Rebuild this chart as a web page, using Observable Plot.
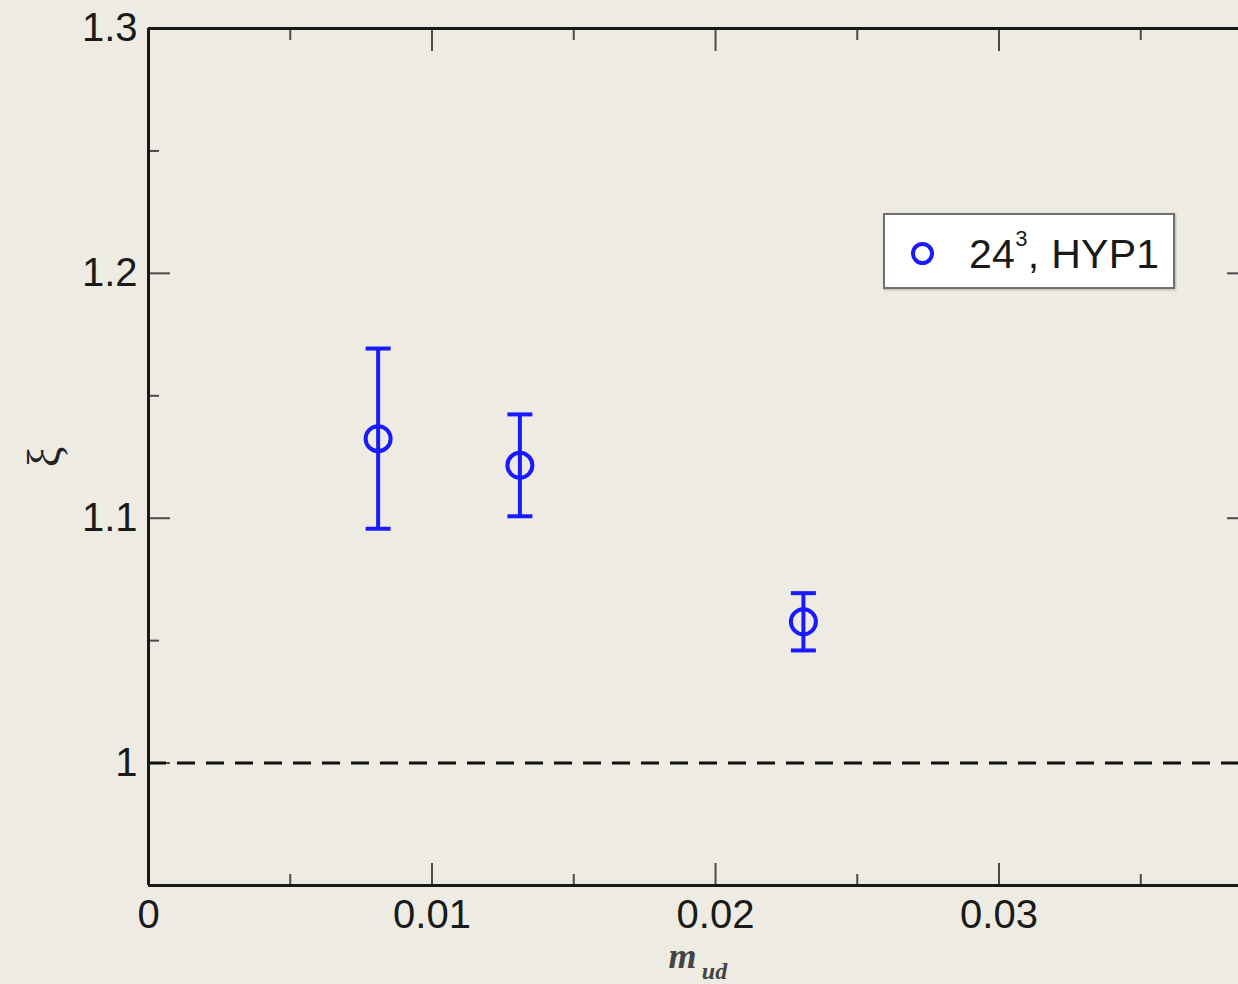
<!DOCTYPE html>
<html>
<head>
<meta charset="utf-8">
<script src="https://cdn.jsdelivr.net/npm/d3@7"></script>
<script src="https://cdn.jsdelivr.net/npm/@observablehq/plot@0.6"></script>
<style>
  html, body { margin: 0; padding: 0; background: #eeebe2; }
  #chart { position: relative; width: 1238px; height: 984px; overflow: hidden; }
  #chart svg { position: absolute; left: 0; top: 0; overflow: hidden; }
  .legend {
    position: absolute; left: 883px; top: 213px; width: 288px; height: 72px;
    background: #ffffff; border: 2px solid #707070; box-shadow: 1px 1px 2px rgba(0,0,0,0.25);
    font-family: "Liberation Sans", Arial, sans-serif; color: #1a1a1a;
  }
  .legend .sym {
    position: absolute; left: 26px; top: 27px; width: 23px; height: 23px; box-sizing: border-box;
    border: 4px solid #1a1aff; border-radius: 50%;
  }
  .legend .lab { position: absolute; left: 84px; top: 19px; font-size: 41px; line-height: 41px; white-space: nowrap; letter-spacing: 0.3px; }
  .legend .lab sup { font-size: 22px; vertical-align: 0; position: relative; top: -22px; }
</style>
</head>
<body>
<div id="chart"></div>
<script>
// Pion-mass dependence of xi on the 24^3 HYP1 ensemble
const mud = [0.0081, 0.0131, 0.0231];
const xi = [1.1325, 1.1216, 1.0577];
const xiErr = [0.0368, 0.0208, 0.0117];
const seriesName = "24³, HYP1";

// axis layout
const xDomain = [0, 0.0388];
const yDomain = [0.95, 1.3];
const xMajor = [0, 0.01, 0.02, 0.03];
const xMajorLabels = ["0", "0.01", "0.02", "0.03"];
const xMinor = [0.005, 0.015, 0.025, 0.035];
const yMajor = [1, 1.1, 1.2, 1.3];
const yMajorLabels = ["1", "1.1", "1.2", "1.3"];
const yMinor = [1.05, 1.15, 1.25];
const reference = [1];

const points = mud.map((m, i) => ({m, xi: xi[i], lo: xi[i] - xiErr[i], hi: xi[i] + xiErr[i]}));

const blue = "#1a1aff";
const ink = "#1a1a1a";
const tickInk = "#4a4a4a";

// flat horizontal cap for the error bars
const capSymbol = {
  draw(context, size) {
    const w = Math.sqrt(size / Math.PI);
    context.moveTo(-w, 0);
    context.lineTo(w, 0);
  }
};

const tickAxes = [];
for (const anchor of ["bottom", "top"]) {
  tickAxes.push(Plot.axisX(xMajor, {anchor, label: null, tickSize: -22, tickFormat: () => "", stroke: tickInk, strokeWidth: 2}));
  tickAxes.push(Plot.axisX(xMinor, {anchor, label: null, tickSize: -11, tickFormat: () => "", stroke: tickInk, strokeWidth: 2}));
}
for (const anchor of ["left", "right"]) {
  tickAxes.push(Plot.axisY(yMajor, {anchor, label: null, tickSize: -22, tickFormat: () => "", stroke: tickInk, strokeWidth: 2}));
  tickAxes.push(Plot.axisY(yMinor, {anchor, label: null, tickSize: -11, tickFormat: () => "", stroke: tickInk, strokeWidth: 2}));
}

const chart = Plot.plot({
  width: 1238,
  height: 984,
  marginLeft: 148,
  marginRight: -10,
  marginTop: 28,
  marginBottom: 99,
  style: {background: "transparent", fontFamily: "'Liberation Sans', Arial, sans-serif", fontSize: "40px", color: ink},
  x: {domain: xDomain, axis: null},
  y: {domain: yDomain, axis: null},
  marks: [
    ...tickAxes,
    Plot.axisX(xMajor, {anchor: "bottom", label: null, tickSize: 0, tickPadding: 14, tickFormat: d => xMajorLabels[xMajor.indexOf(d)], fill: ink}),
    Plot.axisY(yMajor, {anchor: "left", label: null, tickSize: 0, tickPadding: 11, tickFormat: d => yMajorLabels[yMajor.indexOf(d)], fill: ink}),
    Plot.ruleY(reference, {stroke: "#111", strokeWidth: 3, strokeDasharray: "18,11"}),
    Plot.ruleY(yDomain, {stroke: ink, strokeWidth: 3}),
    Plot.ruleX(xDomain, {stroke: ink, strokeWidth: 3}),
    Plot.ruleX(points, {x: "m", y1: "lo", y2: "hi", stroke: blue, strokeWidth: 4}),
    Plot.dot(points, {x: "m", y: "lo", symbol: capSymbol, r: 12.5, stroke: blue, fill: "none", strokeWidth: 4}),
    Plot.dot(points, {x: "m", y: "hi", symbol: capSymbol, r: 12.5, stroke: blue, fill: "none", strokeWidth: 4}),
    Plot.dot(points, {x: "m", y: "xi", r: 12.5, stroke: blue, fill: "none", strokeWidth: 4}),
    Plot.text(["ξ"], {text: d => d, frameAnchor: "left", dx: -103, rotate: -90, textAnchor: "middle", lineAnchor: "middle", fontSize: 46, fontFamily: "'Liberation Serif', serif", fill: "#222"}),
    Plot.text(["m"], {text: d => d, frameAnchor: "bottom", dx: -16, dy: 82, lineAnchor: "bottom", fontSize: 36, fontStyle: "italic", fontWeight: "bold", fontFamily: "'Liberation Serif', serif", fill: "#444"}),
    Plot.text(["ud"], {text: d => d, frameAnchor: "bottom", dx: 16, dy: 93, lineAnchor: "bottom", fontSize: 24, fontStyle: "italic", fontWeight: "bold", fontFamily: "'Liberation Serif', serif", fill: "#444"})
  ]
});

const root = document.getElementById("chart");
root.appendChild(chart);

const legend = document.createElement("div");
legend.className = "legend";
const sym = document.createElement("span");
sym.className = "sym";
const lab = document.createElement("span");
lab.className = "lab";
const [base, rest] = seriesName.split("³");
lab.innerHTML = `${base}<sup>3</sup>${rest}`;
legend.append(sym, lab);
root.appendChild(legend);
</script>
</body>
</html>
